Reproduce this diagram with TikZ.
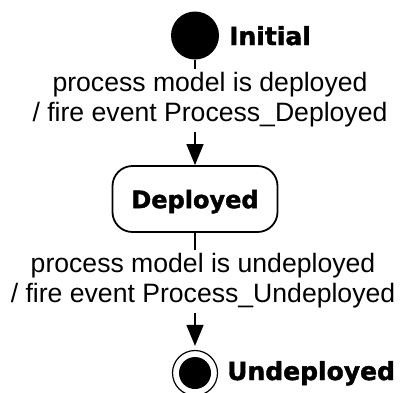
\documentclass[tikz,border=0pt]{standalone}
\usepackage{fontspec}
\setmainfont{Liberation Sans}
\newfontfamily\statefont{DejaVu Sans}[BoldFeatures={FakeBold=1.6}]
\usetikzlibrary{arrows.meta}
\tikzset{
  statename/.style={inner sep=0pt, font=\statefont\bfseries\fontsize{25}{30}\selectfont},
  trlabel/.style={align=center, inner xsep=2pt, inner ysep=4pt, font=\fontsize{26.6}{30}\selectfont},
  stbox/.style={draw, line width=1.8pt, rounded corners=20pt, minimum width=165pt, minimum height=66pt, inner sep=0pt,
     text depth=0pt, font=\statefont\bfseries\fontsize{24}{28}\selectfont},
  conn/.style={line width=1.4pt},
  arr/.style={line width=1.4pt, -{Triangle[length=21pt,width=17pt]}},
}
\begin{document}
\begin{tikzpicture}[x=1pt,y=-1pt]
\useasboundingbox (0,0) rectangle (403,392);
% initial state
\node[circle, fill=black, minimum size=48pt, inner sep=0pt] (init) at (195,35.5) {};
\node[statename, anchor=base west] (initlbl) at (229,45) {Initial};
% first transition label
\node[trlabel, anchor=north] (lab1) at (210,68.5) {process model is deployed\\/ fire event Process\_Deployed};
% deployed state
\node[stbox] (dep) at (195,199) {Deployed};
% second transition label
\node[trlabel, anchor=north] (lab2) at (203,249.5) {process model is undeployed\\/ fire event Process\_Undeployed};
% final state
\node[circle, draw, line width=1.2pt, minimum size=45pt, inner sep=0pt] (fin) at (195,373) {};
\node[circle, fill=black, minimum size=32pt, inner sep=0pt] (fincore) at (fin.center) {};
\node[statename, anchor=base west] (finlbl) at (227,380) {Undeployed};
% connectors
\draw[conn] (init.south) -- (init.south |- lab1.north);
\draw[arr] (init.south |- lab1.south) -- (dep.north);
\draw[conn] (dep.south) -- (dep.south |- lab2.north);
\draw[arr, shorten >=4pt] (dep.south |- lab2.south) -- (fin.north);
\end{tikzpicture}
\end{document}
